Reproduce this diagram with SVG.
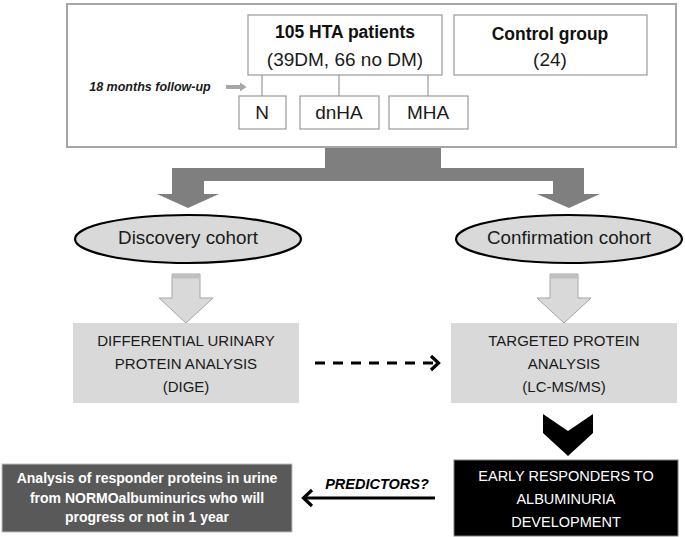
<svg xmlns="http://www.w3.org/2000/svg" width="685" height="537" viewBox="0 0 685 537">
<style>
  text { font-family: "Liberation Sans", Arial, sans-serif; text-anchor: middle; }
  .box { fill: #ffffff; stroke: #999999; stroke-width: 1.2; }
  .t19 { font-size: 19px; fill: #1a1a1a; }
  .b17 { font-size: 17.5px; font-weight: bold; fill: #111111; }
  .cap15 { font-size: 15px; fill: #1a1a1a; }
  .ell { fill: #d9d9d9; stroke: #000000; stroke-width: 2.2; }
  .lt { fill: #d9d9d9; stroke: #a6a6a6; stroke-width: 1; }
  .gl { stroke: #999999; stroke-width: 1.2; fill: none; }
</style>
<rect x="0" y="0" width="685" height="537" fill="#ffffff"/>

<g id="outer-frame">
  <rect x="67" y="4" width="609" height="143" fill="#ffffff" stroke="#a6a6a6" stroke-width="2"/>
  <text x="150" y="91" style="font-size:12.5px;font-weight:bold;font-style:italic;fill:#1a1a1a">18 months follow-up</text>
</g>

<g id="hta-patients">
  <rect class="box" x="248" y="15" width="194" height="60"/>
  <text class="b17" x="345" y="38">105 HTA patients</text>
  <text class="t19" x="345" y="66">(39DM, 66 no DM)</text>
</g>

<g id="control-group">
  <rect class="box" x="454" y="15" width="193" height="60"/>
  <text class="b17" x="550" y="40">Control group</text>
  <text class="t19" x="550" y="66">(24)</text>
</g>

<g id="n">
  <rect class="box" x="239" y="96" width="47" height="33"/>
  <text class="t19" x="262" y="119">N</text>
</g>
<g id="dnha">
  <rect class="box" x="300" y="96" width="79" height="33"/>
  <text class="t19" x="339" y="119">dnHA</text>
</g>
<g id="mha">
  <rect class="box" x="389" y="96" width="79" height="33"/>
  <text class="t19" x="428" y="119">MHA</text>
</g>

<g id="discovery-cohort">
  <ellipse class="ell" cx="188" cy="239" rx="113" ry="24"/>
  <text x="188" y="244" style="font-size:18.8px;fill:#1a1a1a">Discovery cohort</text>
</g>
<g id="confirmation-cohort">
  <ellipse class="ell" cx="569" cy="239" rx="113" ry="24"/>
  <text x="569" y="244" style="font-size:18.8px;fill:#1a1a1a">Confirmation cohort</text>
</g>

<g id="differential-analysis">
  <rect x="73" y="323" width="226" height="80" fill="#d9d9d9"/>
  <text class="cap15" x="186" y="346">DIFFERENTIAL URINARY</text>
  <text class="cap15" x="186" y="369">PROTEIN ANALYSIS</text>
  <text class="cap15" x="186" y="392">(DIGE)</text>
</g>
<g id="targeted-analysis">
  <rect x="451" y="323" width="226" height="80" fill="#d9d9d9"/>
  <text class="cap15" x="564" y="346">TARGETED PROTEIN</text>
  <text class="cap15" x="564" y="369">ANALYSIS</text>
  <text class="cap15" x="564" y="392">(LC-MS/MS)</text>
</g>

<g id="early-responders">
  <rect x="454" y="460" width="224" height="76" fill="#000000" stroke="#7f7f7f" stroke-width="1"/>
  <text x="566" y="481" style="font-size:14.5px;fill:#ffffff">EARLY RESPONDERS TO</text>
  <text x="566" y="504" style="font-size:14.5px;fill:#ffffff">ALBUMINURIA</text>
  <text x="566" y="527" style="font-size:14.5px;fill:#ffffff">DEVELOPMENT</text>
</g>

<g id="responder-analysis">
  <rect x="2" y="464" width="290" height="68" fill="#595959" stroke="#bfbfbf" stroke-width="1"/>
  <text x="147" y="483" style="font-size:14px;font-weight:bold;fill:#ffffff">Analysis of responder proteins in urine</text>
  <text x="147" y="503" style="font-size:14px;font-weight:bold;fill:#ffffff">from NORMOalbuminurics who will</text>
  <text x="147" y="522" style="font-size:14px;font-weight:bold;fill:#ffffff">progress or not in 1 year</text>
</g>

<g id="connectors">
  <polygon points="226,85 240,85 240,82.5 246.5,87 240,91.5 240,89 226,89" fill="#a6a6a6"/>
  <line class="gl" x1="262" y1="75" x2="262" y2="96"/>
  <line class="gl" x1="339" y1="75" x2="339" y2="96"/>
  <line class="gl" x1="428" y1="75" x2="428" y2="96"/>
  <polygon points="325,148 441,148 441,168 584,168 584,194 600,194 569,208 537,194 553,194 553,181 204,181 204,194 219,194 188,208 157,194 172,194 172,168 325,168" fill="#7f7f7f"/>
  <polygon class="lt" points="172,274 200,274 200,298 213,298 186,323 159,298 172,298"/>
  <rect x="172.5" y="274.5" width="27" height="4" fill="#bfbfbf"/>
  <polygon class="lt" points="550,274 578,274 578,298 591,298 564,323 537,298 550,298"/>
  <rect x="550.5" y="274.5" width="27" height="4" fill="#bfbfbf"/>
  <line x1="315" y1="363" x2="436" y2="363" stroke="#000000" stroke-width="3" stroke-dasharray="10 8"/>
  <polyline points="431,356 438.5,363 431,370" fill="none" stroke="#000000" stroke-width="3.2"/>
  <polygon points="543,414 568,431 593,414 593,433 568,456 543,433" fill="#000000"/>
  <line x1="304" y1="498" x2="435" y2="498" stroke="#000000" stroke-width="3"/>
  <polyline points="312,490 303.5,498 312,506" fill="none" stroke="#000000" stroke-width="3.2"/>
  <text x="377" y="489" style="font-size:14.5px;font-weight:bold;font-style:italic;fill:#000000">PREDICTORS?</text>
</g>
</svg>
